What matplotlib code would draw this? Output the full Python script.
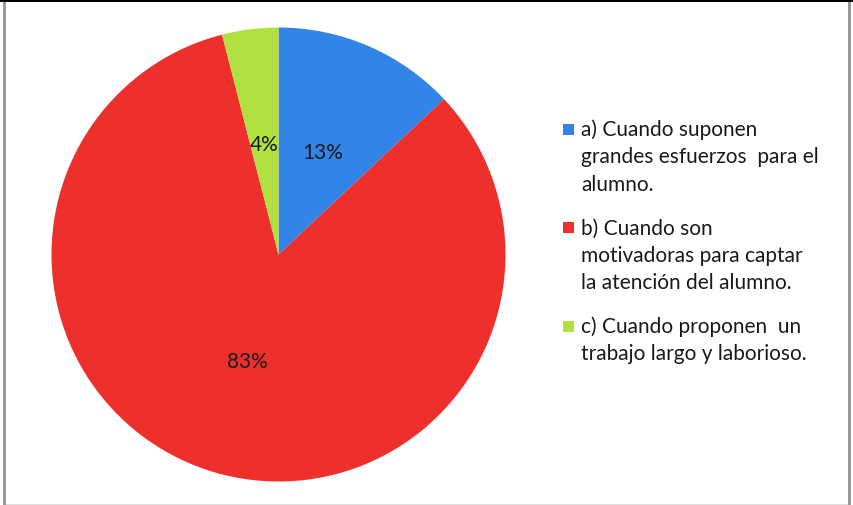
import matplotlib
matplotlib.use("Agg")
import matplotlib.pyplot as plt
from matplotlib.patches import Rectangle

categories = ["a) Cuando suponen\ngrandes esfuerzos  para el\nalumno.",
              "b) Cuando son\nmotivadoras para captar\nla atención del alumno.",
              "c) Cuando proponen  un\ntrabajo largo y laborioso."]
values = [13, 83, 4]
colors = ["#3284E6", "#EE302D", "#B0E03F"]

plt.rcParams['font.family'] = ['Lato', 'DejaVu Sans']

W, H = 854, 506
fig = plt.figure(figsize=(W/100, H/100), dpi=100)
fig.patch.set_facecolor("white")

# pie axes
cx, cy, r = 278.5, 255.5, 227
ax = fig.add_axes([(cx - r)/W, 1 - (cy + r)/H, 2*r/W, 2*r/H])
wedges, texts, autotexts = ax.pie(values, colors=colors, startangle=90, counterclock=False,
                                  autopct='%1.0f%%', pctdistance=0.49,
                                  wedgeprops=dict(linewidth=0),
                                  textprops=dict(fontsize=15, color="#1a1a1a"))
ax.set_xlim(-1, 1); ax.set_ylim(-1, 1)
ax.set_aspect('equal')
ax.axis('off')

# legend drawn manually (square aligned with first line)
y = 130
pitch = 27.3
gap = 44
sq = 11
for lab, col in zip(categories, colors):
    fig.add_artist(Rectangle((563/W, 1 - (y + sq/2)/H), sq/W, sq/H,
                             transform=fig.transFigure, color=col, lw=0))
    lines = lab.split("\n")
    for i, ln in enumerate(lines):
        fig.text(581/W, 1 - (y + i*pitch)/H, ln, fontsize=15, color="#1a1a1a",
                 ha='left', va='center')
    y += (len(lines) - 1)*pitch + gap

# frame
fig.add_artist(Rectangle((0, 1 - 3/H), 1, 3/H, transform=fig.transFigure, color="black", lw=0))
fig.add_artist(Rectangle((3/W, 0), 3/W, 1 - 3/H, transform=fig.transFigure, color="#999999", lw=0))
fig.add_artist(Rectangle((848/W, 0), 3/W, 1 - 3/H, transform=fig.transFigure, color="#999999", lw=0))
fig.add_artist(Rectangle((6/W, 0), 842/W, 1/H, transform=fig.transFigure, color="#dddddd", lw=0))

fig.savefig("out.png", dpi=100)
